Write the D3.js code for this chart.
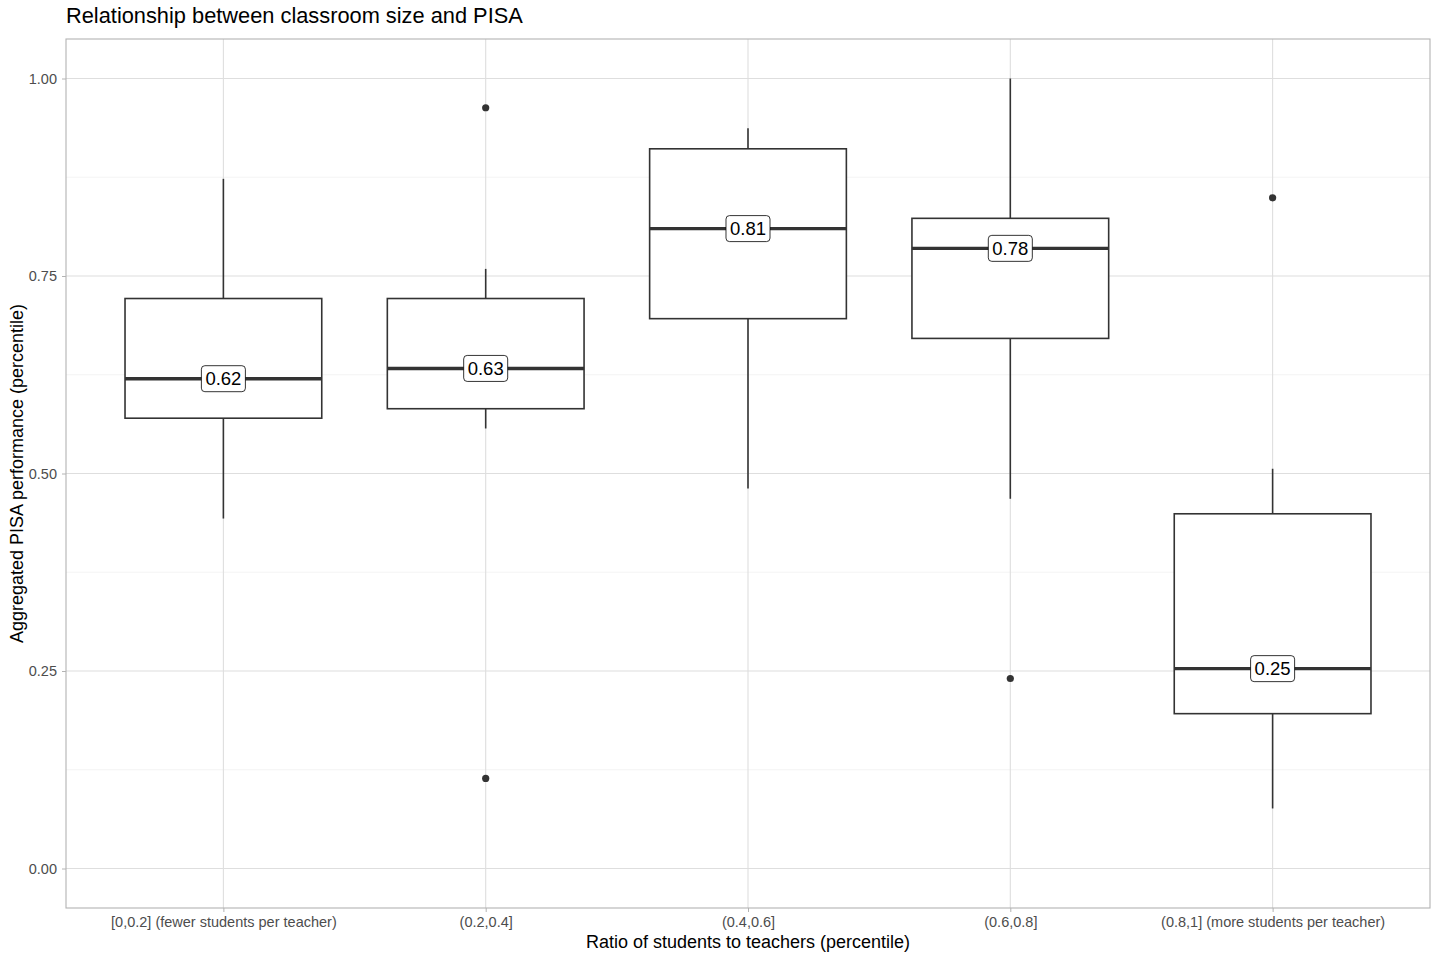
<!DOCTYPE html>
<html>
<head>
<meta charset="utf-8">
<script src="https://cdn.jsdelivr.net/npm/d3@7"></script>
<style>
  body { margin: 0; background: #fff; }
  svg { font-family: "Liberation Sans", Arial, sans-serif; }
</style>
</head>
<body>
<svg id="chart" width="1440" height="960"></svg>
<script>
// categories and box stats
const categories = ["[0,0.2] (fewer students per teacher)", "(0.2,0.4]", "(0.4,0.6]", "(0.6,0.8]", "(0.8,1] (more students per teacher)"];
const whiskerLow = [0.443, 0.557, 0.481, 0.468, 0.076];
const q1 = [0.570, 0.582, 0.696, 0.671, 0.196];
const median = [0.620, 0.633, 0.810, 0.785, 0.253];
const q3 = [0.7215, 0.7215, 0.911, 0.823, 0.449];
const whiskerHigh = [0.873, 0.759, 0.937, 1.0, 0.506];
const outliers = [[], [0.963, 0.114], [], [0.2405], [0.849]];
const medianLabels = ["0.62", "0.63", "0.81", "0.78", "0.25"];
const yTicks = [0, 0.25, 0.5, 0.75, 1.0];
const yMinor = [0.125, 0.375, 0.625, 0.875];

const margin = { top: 39, right: 10, bottom: 52, left: 66 };
const W = 1440, H = 960;
const width = W - margin.left - margin.right;
const height = H - margin.top - margin.bottom;

const svg = d3.select('#chart');
const g = svg.append('g').attr('transform', `translate(${margin.left},${margin.top})`);

// ggplot discrete axis: 0.6 expansion each side
const x = d3.scalePoint().domain(categories).range([0, width]).padding(0.6);
const step = x.step();
const boxW = step * 0.75;
const y = d3.scaleLinear().domain([-0.05, 1.05]).range([height, 0]);

// grid
g.selectAll('.minor').data(yMinor).enter().append('line')
  .attr('x1', 0).attr('x2', width)
  .attr('y1', d => y(d)).attr('y2', d => y(d))
  .attr('stroke', '#ededed').attr('stroke-width', 0.6);
g.selectAll('.major').data(yTicks).enter().append('line')
  .attr('x1', 0).attr('x2', width)
  .attr('y1', d => y(d)).attr('y2', d => y(d))
  .attr('stroke', '#dedede').attr('stroke-width', 1.1);
g.selectAll('.vmajor').data(categories).enter().append('line')
  .attr('x1', d => x(d)).attr('x2', d => x(d))
  .attr('y1', 0).attr('y2', height)
  .attr('stroke', '#dedede').attr('stroke-width', 1.1);

// axes
const xAxis = g.append('g').attr('transform', `translate(0,${height})`)
  .call(d3.axisBottom(x).tickSize(4).tickPadding(5));
const yAxis = g.append('g')
  .call(d3.axisLeft(y).tickValues(yTicks).tickFormat(d3.format('.2f')).tickSize(4).tickPadding(5));
[xAxis, yAxis].forEach(a => {
  a.select('.domain').remove();
  a.selectAll('.tick line').attr('stroke', '#b3b3b3');
  a.selectAll('.tick text').attr('fill', '#4d4d4d').style('font-size', '14.5px')
    .style('font-family', '"Liberation Sans", Arial, sans-serif');
});

// boxes
const data = categories.map((c, i) => ({ c, i }));
const boxes = g.selectAll('.box').data(data).enter().append('g').attr('class', 'box');
boxes.append('line')
  .attr('x1', d => x(d.c)).attr('x2', d => x(d.c))
  .attr('y1', d => y(q3[d.i])).attr('y2', d => y(whiskerHigh[d.i]))
  .attr('stroke', '#333').attr('stroke-width', 1.6);
boxes.append('line')
  .attr('x1', d => x(d.c)).attr('x2', d => x(d.c))
  .attr('y1', d => y(q1[d.i])).attr('y2', d => y(whiskerLow[d.i]))
  .attr('stroke', '#333').attr('stroke-width', 1.6);
boxes.append('rect')
  .attr('x', d => x(d.c) - boxW / 2).attr('width', boxW)
  .attr('y', d => y(q3[d.i])).attr('height', d => y(q1[d.i]) - y(q3[d.i]))
  .attr('fill', '#fff').attr('stroke', '#333').attr('stroke-width', 1.6);
boxes.append('line')
  .attr('x1', d => x(d.c) - boxW / 2).attr('x2', d => x(d.c) + boxW / 2)
  .attr('y1', d => y(median[d.i])).attr('y2', d => y(median[d.i]))
  .attr('stroke', '#333').attr('stroke-width', 3.4);
boxes.each(function (d) {
  d3.select(this).selectAll('circle').data(outliers[d.i]).enter().append('circle')
    .attr('cx', x(d.c)).attr('cy', v => y(v)).attr('r', 3.6).attr('fill', '#333');
});

// median labels
boxes.each(function (d) {
  const lg = d3.select(this).append('g')
    .attr('transform', `translate(${x(d.c)},${y(median[d.i])})`);
  const t = lg.append('text').text(medianLabels[d.i])
    .attr('text-anchor', 'middle').attr('dy', '0.36em')
    .style('font-size', '18.5px').attr('fill', '#000');
  const bb = t.node().getBBox();
  lg.insert('rect', 'text')
    .attr('x', bb.x - 4).attr('y', -13).attr('width', bb.width + 8).attr('height', 26)
    .attr('rx', 3.5).attr('fill', '#fff').attr('stroke', '#000').attr('stroke-width', 0.8);
});

// panel border
g.append('rect').attr('width', width).attr('height', height)
  .attr('fill', 'none').attr('stroke', '#b3b3b3').attr('stroke-width', 1.1);

// titles
svg.append('text').attr('x', 66).attr('y', 23)
  .style('font-size', '21.8px').attr('fill', '#000')
  .text('Relationship between classroom size and PISA');
svg.append('text').attr('x', margin.left + width / 2).attr('y', 948)
  .attr('text-anchor', 'middle').style('font-size', '18px').attr('fill', '#000')
  .text('Ratio of students to teachers (percentile)');
svg.append('text')
  .attr('transform', `translate(23,${margin.top + height / 2}) rotate(-90)`)
  .attr('text-anchor', 'middle').style('font-size', '18px').attr('fill', '#000')
  .text('Aggregated PISA performance (percentile)');
</script>
</body>
</html>
